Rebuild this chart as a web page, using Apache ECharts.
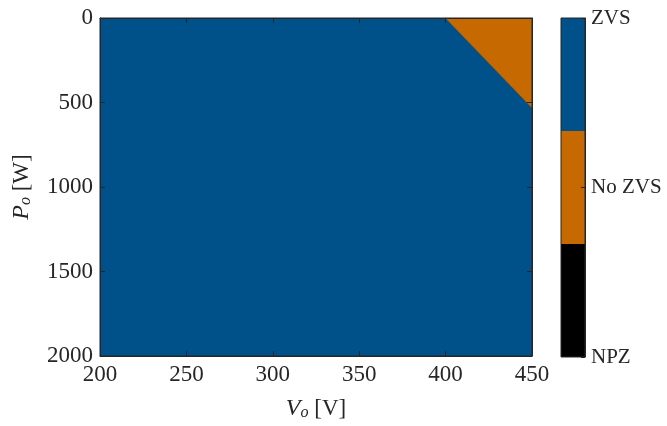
<!DOCTYPE html>
<html>
<head>
<meta charset="utf-8">
<script src="https://cdn.jsdelivr.net/npm/echarts@6/dist/echarts.min.js"></script>
<style>
  html, body { margin: 0; padding: 0; background: #fff; }
  #main { width: 667px; height: 426px; }
</style>
</head>
<body>
<div id="main"></div>
<script>
// operating region boundaries (Vo in V, Po in W)
var zvsV = [200, 450, 450, 200];
var zvsP = [0, 0, 2000, 2000];
var noZvsV = [400, 450, 450];
var noZvsP = [0, 0, 531];

var xTicks = [200, 250, 300, 350, 400, 450];
var yTicks = [0, 500, 1000, 1500, 2000];

// colorbar
var cbLabels = ['NPZ', 'No ZVS', 'ZVS'];
var cbColors = ['#000000', '#C56900', '#00518A'];
var cbSeg = [2 / 3, 2 / 3, 2 / 3];

var FONT = 'Liberation Serif';
var AX = '#262626';

var chart = echarts.init(document.getElementById('main'), null, { renderer: 'canvas' });

function pts(vs, ps) {
  return vs.map(function (v, i) { return [v, ps[i]]; });
}

function polySeries(name, vs, ps, color) {
  return {
    name: name,
    type: 'custom',
    xAxisIndex: 0,
    yAxisIndex: 0,
    z: 1,
    data: pts(vs, ps),
    clip: true,
    silent: true,
    renderItem: function (params, api) {
      if (params.dataIndex !== 0) return null;
      var points = pts(vs, ps).map(function (p) { return api.coord(p); });
      return {
        type: 'polygon',
        shape: { points: points },
        style: { fill: color, stroke: color, lineWidth: 0.5 }
      };
    }
  };
}

function tickStyle() {
  return { show: true, inside: true, length: 5, lineStyle: { color: AX, width: 1 } };
}
var lineStyle = { show: true, onZero: false, lineStyle: { color: AX } };

var nameRich = {
  i: { fontFamily: FONT, fontSize: 24, fontStyle: 'italic', color: '#262626' },
  s: { fontFamily: FONT, fontSize: 16, fontStyle: 'italic', color: '#262626', verticalAlign: 'bottom', padding: [9, 0, 0, 0] }
};

var option = {
  animation: false,
  grid: [
    { left: 100, right: 135, top: 18, bottom: 69, show: true, borderColor: AX, borderWidth: 1, backgroundColor: 'transparent', zlevel: 1 },
    { left: 561, width: 24, top: 18, bottom: 69, show: true, borderColor: AX, borderWidth: 1, backgroundColor: 'transparent', zlevel: 1 }
  ],
  xAxis: [
    {
      gridIndex: 0, type: 'value', min: xTicks[0], max: xTicks[xTicks.length - 1], interval: 50,
      position: 'bottom', zlevel: 1,
      axisLine: lineStyle,
      axisTick: tickStyle(),
      splitLine: { show: false },
      axisLabel: { color: '#262626', fontFamily: FONT, fontSize: 23, margin: 7, formatter: function (v) { return String(v); } },
      name: '{i|V}{s|o} [V]',
      nameLocation: 'middle',
      nameGap: 40,
      nameTextStyle: { color: '#262626', fontFamily: FONT, fontSize: 23, rich: nameRich }
    },
    {
      gridIndex: 0, type: 'value', min: 200, max: 450, interval: 50, position: 'top', zlevel: 1,
      axisLine: lineStyle,
      axisTick: tickStyle(), axisLabel: { show: false }, splitLine: { show: false }
    },
    {
      gridIndex: 1, type: 'category', data: ['cb'], show: false
    }
  ],
  yAxis: [
    {
      gridIndex: 0, type: 'value', inverse: true, min: yTicks[0], max: yTicks[yTicks.length - 1], interval: 500,
      position: 'left', zlevel: 1,
      axisLine: lineStyle,
      axisTick: tickStyle(),
      splitLine: { show: false },
      axisLabel: { color: '#262626', fontFamily: FONT, fontSize: 23, margin: 7, formatter: function (v) { return String(v); } },
      name: '{i|P}{s|o} [W]',
      nameLocation: 'middle',
      nameRotate: 90,
      nameGap: 66,
      nameTextStyle: { color: '#262626', fontFamily: FONT, fontSize: 23, rich: nameRich }
    },
    {
      gridIndex: 0, type: 'value', inverse: true, min: 0, max: 2000, interval: 500, position: 'right', zlevel: 1,
      axisLine: lineStyle,
      axisTick: tickStyle(), axisLabel: { show: false }, splitLine: { show: false }
    },
    {
      gridIndex: 1, type: 'value', min: 0, max: 2, interval: 1, position: 'right', zlevel: 1,
      axisLine: lineStyle,
      axisTick: { show: true, inside: true, length: 4, lineStyle: { color: AX } },
      splitLine: { show: false },
      axisLabel: {
        show: true, showMinLabel: true, showMaxLabel: true,
        color: '#262626', fontFamily: FONT, fontSize: 21, margin: 6,
        formatter: function (v) { return cbLabels[Math.round(v)]; }
      }
    }
  ],
  series: [
    polySeries('ZVS', zvsV, zvsP, cbColors[2]),
    polySeries('No ZVS', noZvsV, noZvsP, cbColors[1])
  ].concat(cbLabels.map(function (lab, i) {
    return {
      name: 'cb-' + lab,
      type: 'bar',
      xAxisIndex: 2,
      yAxisIndex: 2,
      stack: 'cb',
      barWidth: '100%',
      silent: true,
      z: 1,
      itemStyle: { color: cbColors[i] },
      data: [cbSeg[i]]
    };
  }))
};

chart.setOption(option);
</script>
</body>
</html>
